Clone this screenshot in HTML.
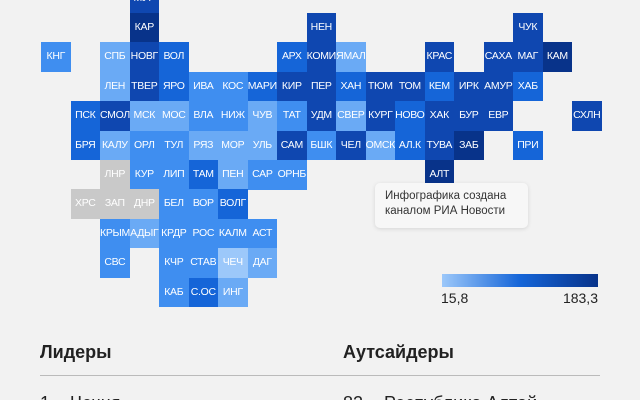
<!DOCTYPE html>
<html><head><meta charset="utf-8"><style>
html{height:400px;overflow:hidden}
body{margin:0;width:640px;height:400px;overflow:hidden;background:#f2f2f2;font-family:"Liberation Sans","DejaVu Sans",sans-serif;position:relative}
.t{position:absolute;width:29.6px;height:29.5px;left:calc(41px + var(--c)*29.5px);top:calc(13px + var(--r)*29.4px);color:#fff;font-size:10.5px;line-height:29.5px;text-align:center;white-space:nowrap;letter-spacing:-0.3px;overflow:visible}
.A{background:#08338a}.B{background:#0f47b0}.C{background:#1565d8}.D{background:#3f8ef0}.E{background:#6aaaf5}.F{background:#9cc8fa}.G{background:#c9c9c9}
</style></head><body>
<div class="t B" style="--c:3;--r:-1">МУР</div>
<div class="t A" style="--c:3;--r:0">КАР</div>
<div class="t B" style="--c:9;--r:0">НЕН</div>
<div class="t B" style="--c:16;--r:0">ЧУК</div>

<div class="t D" style="--c:0;--r:1">КНГ</div>
<div class="t E" style="--c:2;--r:1">СПБ</div>
<div class="t B" style="--c:3;--r:1">НОВГ</div>
<div class="t C" style="--c:4;--r:1">ВОЛ</div>
<div class="t C" style="--c:8;--r:1">АРХ</div>
<div class="t B" style="--c:9;--r:1">КОМИ</div>
<div class="t E" style="--c:10;--r:1">ЯМАЛ</div>
<div class="t B" style="--c:13;--r:1">КРАС</div>
<div class="t B" style="--c:15;--r:1">САХА</div>
<div class="t B" style="--c:16;--r:1">МАГ</div>
<div class="t A" style="--c:17;--r:1">КАМ</div>

<div class="t E" style="--c:2;--r:2">ЛЕН</div>
<div class="t B" style="--c:3;--r:2">ТВЕР</div>
<div class="t C" style="--c:4;--r:2">ЯРО</div>
<div class="t D" style="--c:5;--r:2">ИВА</div>
<div class="t D" style="--c:6;--r:2">КОС</div>
<div class="t C" style="--c:7;--r:2">МАРИ</div>
<div class="t B" style="--c:8;--r:2">КИР</div>
<div class="t B" style="--c:9;--r:2">ПЕР</div>
<div class="t C" style="--c:10;--r:2">ХАН</div>
<div class="t B" style="--c:11;--r:2">ТЮМ</div>
<div class="t B" style="--c:12;--r:2">ТОМ</div>
<div class="t C" style="--c:13;--r:2">КЕМ</div>
<div class="t B" style="--c:14;--r:2">ИРК</div>
<div class="t B" style="--c:15;--r:2">АМУР</div>
<div class="t C" style="--c:16;--r:2">ХАБ</div>

<div class="t C" style="--c:1;--r:3">ПСК</div>
<div class="t B" style="--c:2;--r:3">СМОЛ</div>
<div class="t E" style="--c:3;--r:3">МСК</div>
<div class="t E" style="--c:4;--r:3">МОС</div>
<div class="t D" style="--c:5;--r:3">ВЛА</div>
<div class="t D" style="--c:6;--r:3">НИЖ</div>
<div class="t E" style="--c:7;--r:3">ЧУВ</div>
<div class="t D" style="--c:8;--r:3">ТАТ</div>
<div class="t B" style="--c:9;--r:3">УДМ</div>
<div class="t E" style="--c:10;--r:3">СВЕР</div>
<div class="t B" style="--c:11;--r:3">КУРГ</div>
<div class="t C" style="--c:12;--r:3">НОВО</div>
<div class="t B" style="--c:13;--r:3">ХАК</div>
<div class="t B" style="--c:14;--r:3">БУР</div>
<div class="t B" style="--c:15;--r:3">ЕВР</div>
<div class="t B" style="--c:18;--r:3">СХЛН</div>

<div class="t C" style="--c:1;--r:4">БРЯ</div>
<div class="t E" style="--c:2;--r:4">КАЛУ</div>
<div class="t D" style="--c:3;--r:4">ОРЛ</div>
<div class="t D" style="--c:4;--r:4">ТУЛ</div>
<div class="t E" style="--c:5;--r:4">РЯЗ</div>
<div class="t E" style="--c:6;--r:4">МОР</div>
<div class="t E" style="--c:7;--r:4">УЛЬ</div>
<div class="t B" style="--c:8;--r:4">САМ</div>
<div class="t D" style="--c:9;--r:4">БШК</div>
<div class="t B" style="--c:10;--r:4">ЧЕЛ</div>
<div class="t E" style="--c:11;--r:4">ОМСК</div>
<div class="t C" style="--c:12;--r:4">АЛ.К</div>
<div class="t B" style="--c:13;--r:4">ТУВА</div>
<div class="t A" style="--c:14;--r:4">ЗАБ</div>
<div class="t C" style="--c:16;--r:4">ПРИ</div>

<div class="t G" style="--c:2;--r:5">ЛНР</div>
<div class="t D" style="--c:3;--r:5">КУР</div>
<div class="t D" style="--c:4;--r:5">ЛИП</div>
<div class="t C" style="--c:5;--r:5">ТАМ</div>
<div class="t E" style="--c:6;--r:5">ПЕН</div>
<div class="t D" style="--c:7;--r:5">САР</div>
<div class="t D" style="--c:8;--r:5">ОРНБ</div>
<div class="t A" style="--c:13;--r:5">АЛТ</div>

<div class="t G" style="--c:1;--r:6">ХРС</div>
<div class="t G" style="--c:2;--r:6">ЗАП</div>
<div class="t G" style="--c:3;--r:6">ДНР</div>
<div class="t D" style="--c:4;--r:6">БЕЛ</div>
<div class="t D" style="--c:5;--r:6">ВОР</div>
<div class="t C" style="--c:6;--r:6">ВОЛГ</div>

<div class="t D" style="--c:2;--r:7">КРЫМ</div>
<div class="t E" style="--c:3;--r:7">АДЫГ</div>
<div class="t D" style="--c:4;--r:7">КРДР</div>
<div class="t D" style="--c:5;--r:7">РОС</div>
<div class="t D" style="--c:6;--r:7">КАЛМ</div>
<div class="t D" style="--c:7;--r:7">АСТ</div>

<div class="t D" style="--c:2;--r:8">СВС</div>
<div class="t D" style="--c:4;--r:8">КЧР</div>
<div class="t D" style="--c:5;--r:8">СТАВ</div>
<div class="t F" style="--c:6;--r:8">ЧЕЧ</div>
<div class="t E" style="--c:7;--r:8">ДАГ</div>

<div class="t D" style="--c:4;--r:9">КАБ</div>
<div class="t C" style="--c:5;--r:9">С.ОС</div>
<div class="t E" style="--c:6;--r:9">ИНГ</div>

<div style="position:absolute;left:375px;top:183px;width:153px;height:45px;background:#f7f7f7;border-radius:5px;box-shadow:0 1px 4px rgba(0,0,0,0.12);box-sizing:border-box;padding:6px 0 0 10px;font-size:11.5px;line-height:15px;color:#333">Инфографика создана<br>каналом РИА Новости</div>

<div style="position:absolute;left:442px;top:274px;width:156px;height:13px;background:linear-gradient(90deg,#9cc8fa,#1565d8 50%,#08338a)"></div>
<div style="position:absolute;left:441px;top:290px;font-size:14px;color:#222">15,8</div>
<div style="position:absolute;left:540px;width:58px;text-align:right;top:290px;font-size:14px;color:#222">183,3</div>

<div style="position:absolute;left:40px;top:342px;font-size:18px;font-weight:bold;color:#222">Лидеры</div>
<div style="position:absolute;left:343px;top:342px;font-size:18px;font-weight:bold;color:#222">Аутсайдеры</div>
<div style="position:absolute;left:40px;top:375px;width:560px;height:1px;background:#bbb"></div>
<div style="position:absolute;left:40px;top:393px;font-size:18px;color:#222">1</div>
<div style="position:absolute;left:70px;top:393px;font-size:18px;color:#222">Чечня</div>
<div style="position:absolute;left:343px;top:393px;font-size:18px;color:#222">82</div>
<div style="position:absolute;left:384px;top:393px;font-size:18px;color:#222">Республика Алтай</div>
</body></html>
